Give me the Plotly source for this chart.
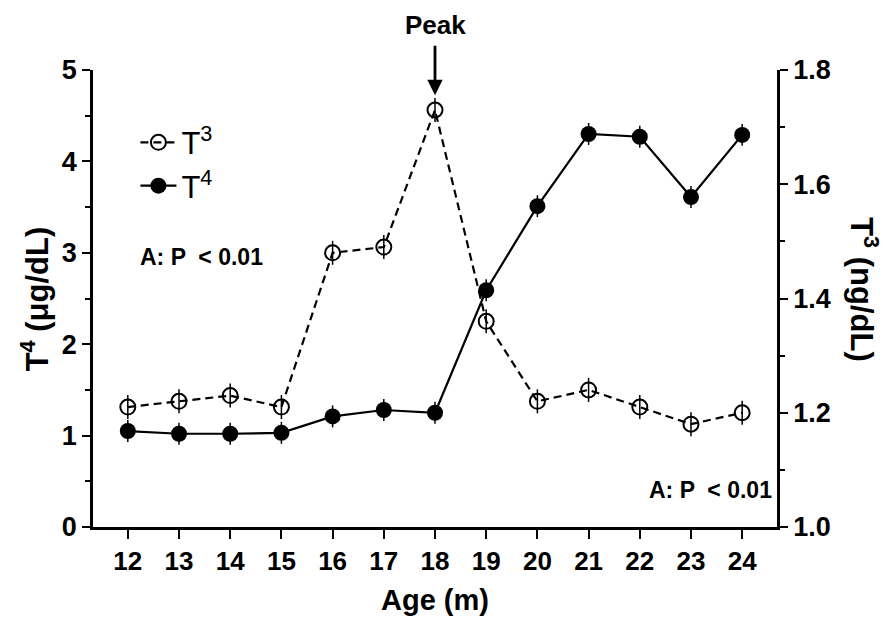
import plotly.graph_objects as go

ages = [12, 13, 14, 15, 16, 17, 18, 19, 20, 21, 22, 23, 24]
age_ticks = ["12", "13", "14", "15", "16", "17", "18", "19", "20", "21", "22", "23", "24"]
t4 = [1.05, 1.02, 1.02, 1.03, 1.21, 1.28, 1.25, 2.59, 3.51, 4.30, 4.27, 3.61, 4.29]
t4_err = [0.12, 0.12, 0.12, 0.12, 0.12, 0.12, 0.12, 0.12, 0.12, 0.12, 0.12, 0.12, 0.12]
t3 = [1.21, 1.22, 1.23, 1.21, 1.48, 1.49, 1.73, 1.36, 1.22, 1.24, 1.21, 1.18, 1.20]
t3_err = [0.021, 0.021, 0.021, 0.021, 0.021, 0.021, 0.021, 0.021, 0.021, 0.021, 0.021, 0.021, 0.021]

FONT = "Arial, Liberation Sans, sans-serif"
NARROW = "Liberation Sans Narrow, Arial Narrow, Arial, sans-serif"

fig = go.Figure()
fig.add_trace(go.Scatter(
    x=ages, y=t3, name="T<sup>3</sup>", yaxis="y2", mode="lines+markers",
    line=dict(color="black", width=2.2, dash="8px,5px"),
    marker=dict(symbol="circle-open", size=15, color="black", line=dict(width=2, color="black")),
    error_y=dict(type="data", array=t3_err, color="black", thickness=1.5, width=0),
))
fig.add_trace(go.Scatter(
    x=ages, y=t4, name="T<sup>4</sup>", yaxis="y", mode="lines+markers",
    line=dict(color="black", width=2.2),
    marker=dict(symbol="circle", size=16, color="black"),
    error_y=dict(type="data", array=t4_err, color="black", thickness=1.5, width=0),
))

fig.update_layout(
    width=885, height=618,
    margin=dict(l=93, r=108, t=70, b=91),
    paper_bgcolor="white", plot_bgcolor="white",
    font=dict(family=FONT, color="black"),
    showlegend=True,
    legend=dict(x=0.062, y=0.9, xanchor="left", yanchor="top",
                font=dict(size=31, family=FONT, color="black"),
                bgcolor="rgba(0,0,0,0)", itemwidth=36, tracegroupgap=0),
    xaxis=dict(range=[11.32, 24.68], tickmode="array", tickvals=ages, ticktext=age_ticks,
               showline=True, linecolor="black", linewidth=2.5, ticks="outside", ticklen=9,
               tickwidth=2, tickcolor="black", showgrid=False, zeroline=False,
               tickfont=dict(size=26, family=NARROW, weight="bold")),
    yaxis=dict(range=[0, 5], dtick=1, tick0=0, showline=True, linecolor="black", linewidth=2.5,
               ticks="outside", ticklen=8, tickwidth=2, tickcolor="black", showgrid=False,
               zeroline=False, tickfont=dict(size=27, family=FONT, weight="bold"),
               minor=dict(dtick=0.5, ticks="outside", ticklen=5, tickwidth=2, tickcolor="black", showgrid=False)),
    yaxis2=dict(range=[1.0, 1.8], dtick=0.2, tick0=1.0, tickformat=".1f", overlaying="y", side="right",
                anchor="x", showline=True, linecolor="black", linewidth=2.5, ticks="outside",
                ticklen=8, tickwidth=2, tickcolor="black", showgrid=False, zeroline=False,
                tickfont=dict(size=27, family=FONT, weight="bold"),
                minor=dict(dtick=0.1, ticks="outside", ticklen=5, tickwidth=2, tickcolor="black", showgrid=False)),
)

annots = [
    dict(text="<b>T<sup>4</sup> (μg/dL)</b>", xref="paper", yref="paper", x=-0.085, y=0.5,
         textangle=-90, showarrow=False, font=dict(size=31, family=FONT), xanchor="center", yanchor="middle"),
    dict(text="<b>T<sup>3</sup> (ng/dL)</b>", xref="paper", yref="paper", x=1.126, y=0.52,
         textangle=90, showarrow=False, font=dict(size=31, family=FONT), xanchor="center", yanchor="middle"),
    dict(text="<b>Age (m)</b>", xref="paper", yref="paper", x=0.5, y=-0.16,
         showarrow=False, font=dict(size=29, family=NARROW), xanchor="center", yanchor="middle"),
    dict(text="<b>A: P  &lt; 0.01</b>", xref="paper", yref="y", x=0.066, y=2.95,
         showarrow=False, font=dict(size=23, family=FONT), xanchor="left", yanchor="middle"),
    dict(text="<b>A: P  &lt; 0.01</b>", xref="paper", yref="paper", x=0.996, y=0.08,
         showarrow=False, font=dict(size=23, family=FONT), xanchor="right", yanchor="middle"),
    dict(text="<b>Peak</b>", xref="x", yref="paper", x=18, y=0.945, ax=0, ay=-70,
         showarrow=True, arrowhead=2, arrowsize=1.1, arrowwidth=2.8, arrowcolor="black",
         startstandoff=4, font=dict(size=26, family=FONT)),
]
fig.update_layout(annotations=annots)

fig.write_html("out.html")
